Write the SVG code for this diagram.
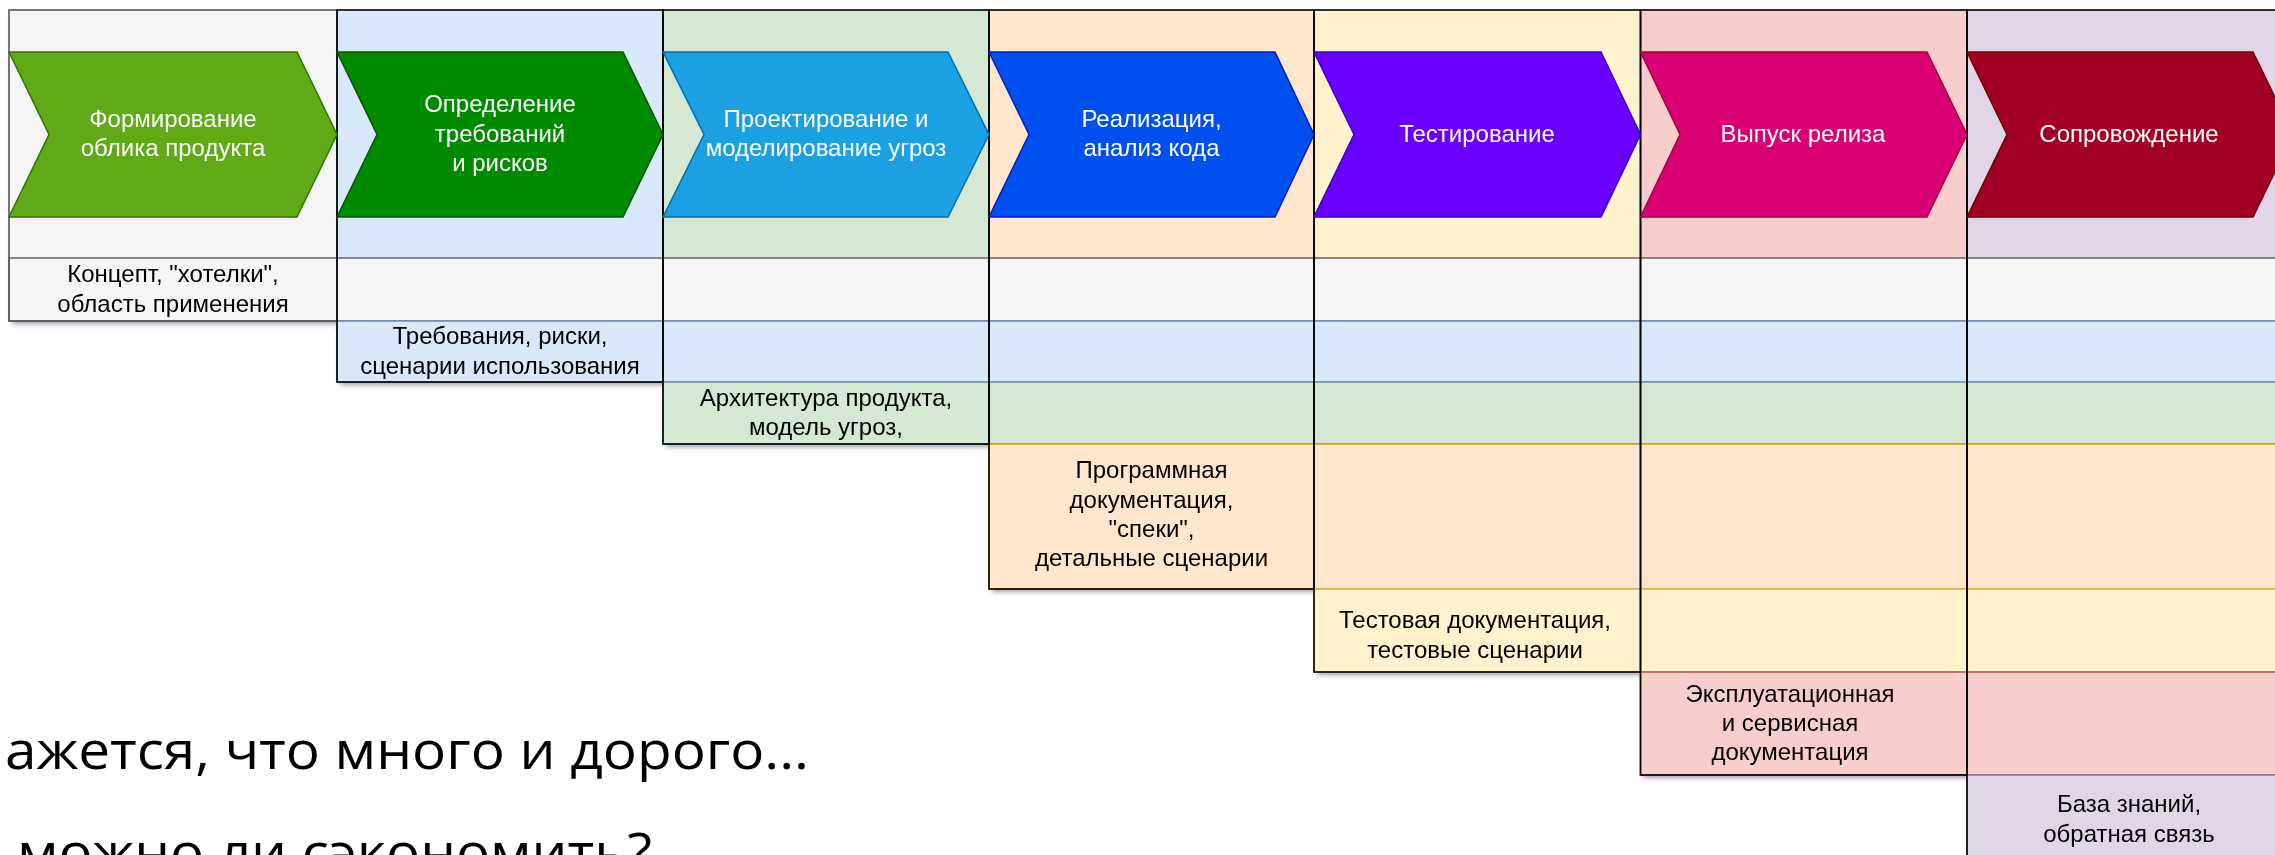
<svg xmlns="http://www.w3.org/2000/svg" width="2275" height="855" viewBox="0 0 2275 855">
<style>
.w{font-family:"Liberation Sans",Arial,sans-serif;font-size:24px;fill:#ffffff;text-anchor:middle}
.b{font-family:"Liberation Sans",Arial,sans-serif;font-size:24px;fill:#000000;text-anchor:middle}
.big{font-family:"Open Sans","Liberation Sans",sans-serif;font-weight:400;font-size:53px;fill:#000000}
.col{fill:none;stroke:#000000;stroke-width:1.6}
.shd{fill:#404060;opacity:.5}
.chev{stroke-width:1.5}
</style>
<defs>
<filter id="sh" x="-5%" y="-5%" width="110%" height="120%"><feGaussianBlur stdDeviation="2.5"/></filter>
</defs>
<rect width="2275" height="855" fill="#ffffff"/>
<g id="shadows" filter="url(#sh)">
<rect class="shd" x="12" y="14" width="328" height="310"/>
<rect class="shd" x="340" y="14" width="326" height="371"/>
<rect class="shd" x="666" y="14" width="326" height="433"/>
<rect class="shd" x="992" y="14" width="325" height="578"/>
<rect class="shd" x="1317" y="14" width="326" height="661"/>
<rect class="shd" x="1643" y="14" width="326" height="764"/>
</g>
<g id="headers">
<rect x="9" y="10" width="328" height="248" fill="#f5f5f5"/>
<rect x="337" y="10" width="326" height="248" fill="#dae8fc"/>
<rect x="663" y="10" width="326" height="248" fill="#d5e8d4"/>
<rect x="989" y="10" width="325" height="248" fill="#ffe6cc"/>
<rect x="1314" y="10" width="326.5" height="248" fill="#fff2cc"/>
<rect x="1640.5" y="10" width="326.5" height="248" fill="#f8cecc"/>
<rect x="1967" y="10" width="330" height="248" fill="#e1d5e7"/>
</g>
<g id="rows">
<rect id="row1" x="9" y="258" width="2300" height="63" fill="#f5f5f5" stroke="#666666" stroke-width="1.5"/>
<rect id="row2" x="337" y="321" width="2000" height="61" fill="#dae8fc" stroke="#6c8ebf" stroke-width="1.5"/>
<rect id="row3" x="663" y="382" width="1700" height="62" fill="#d5e8d4" stroke="#6c8ebf" stroke-width="1.5"/>
<rect id="row4" x="989" y="444" width="1400" height="145" fill="#ffe6cc" stroke="#d79b00" stroke-width="1.5"/>
<rect id="row5" x="1314" y="589" width="1000" height="83" fill="#fff2cc" stroke="#d6b656" stroke-width="1.5"/>
<rect id="row6" x="1640.5" y="672" width="700" height="103" fill="#f8cecc" stroke="#b85450" stroke-width="1.5"/>
<rect id="row7" x="1967" y="775" width="400" height="120" fill="#e1d5e7" stroke="#9673a6" stroke-width="1.5"/>
</g>
<g id="columns">
<rect x="9" y="10" width="328" height="311" class="col" style="stroke:#555555"/>
<rect x="337" y="10" width="326" height="372" class="col"/>
<rect x="663" y="10" width="326" height="434" class="col"/>
<rect x="989" y="10" width="325" height="579" class="col"/>
<rect x="1314" y="10" width="326.5" height="662" class="col"/>
<rect x="1640.5" y="10" width="326.5" height="765" class="col"/>
<rect x="1967" y="10" width="330" height="900" class="col"/>
</g>
<g id="connectors"></g>
<g id="stage1">
<polygon class="chev" points="9,52 297,52 337,134.5 297,217 9,217 49,134.5" fill="#60a917" stroke="#2d7600"/>
<text class="w" x="173" y="127">Формирование</text>
<text class="w" x="173" y="156">облика продукта</text>
</g>
<g id="stage2">
<polygon class="chev" points="337,52 623,52 663,134.5 623,217 337,217 377,134.5" fill="#008a00" stroke="#005700"/>
<text class="w" x="500" y="112">Определение</text>
<text class="w" x="500" y="141.5">требований</text>
<text class="w" x="500" y="171">и рисков</text>
</g>
<g id="stage3">
<polygon class="chev" points="663,52 948,52 989,134.5 948,217 663,217 704,134.5" fill="#1ba1e2" stroke="#006eaf"/>
<text class="w" x="826" y="127">Проектирование и</text>
<text class="w" x="826" y="156">моделирование угроз</text>
</g>
<g id="stage4">
<polygon class="chev" points="989,52 1275,52 1314,134.5 1275,217 989,217 1029,134.5" fill="#0050ef" stroke="#001dbc"/>
<text class="w" x="1151.5" y="127">Реализация,</text>
<text class="w" x="1151.5" y="156">анализ кода</text>
</g>
<g id="stage5">
<polygon class="chev" points="1314,52 1601,52 1640.5,134.5 1601,217 1314,217 1354,134.5" fill="#6a00ff" stroke="#3700cc"/>
<text class="w" x="1477" y="142">Тестирование</text>
</g>
<g id="stage6">
<polygon class="chev" points="1640.5,52 1927,52 1967,134.5 1927,217 1640.5,217 1680,134.5" fill="#d80073" stroke="#a50040"/>
<text class="w" x="1803" y="142">Выпуск релиза</text>
</g>
<g id="stage7">
<polygon class="chev" points="1967,52 2253,52 2293,134.5 2253,217 1967,217 2007,134.5" fill="#a20025" stroke="#6f0000"/>
<text class="w" x="2129" y="142">Сопровождение</text>
</g>
<g id="art1">
<text class="b" x="173" y="282">Концепт, "хотелки",</text>
<text class="b" x="173" y="311.5">область применения</text>
</g>
<g id="art2">
<text class="b" x="500" y="344">Требования, риски,</text>
<text class="b" x="500" y="373.5">сценарии использования</text>
</g>
<g id="art3">
<text class="b" x="826" y="406">Архитектура продукта,</text>
<text class="b" x="826" y="435">модель угроз,</text>
</g>
<g id="art4">
<text class="b" x="1151.5" y="478">Программная</text>
<text class="b" x="1151.5" y="507.5">документация,</text>
<text class="b" x="1151.5" y="537">"спеки",</text>
<text class="b" x="1151.5" y="566">детальные сценарии</text>
</g>
<g id="art5">
<text class="b" x="1475" y="628">Тестовая документация,</text>
<text class="b" x="1475" y="658">тестовые сценарии</text>
</g>
<g id="art6">
<text class="b" x="1790" y="702">Эксплуатационная</text>
<text class="b" x="1790" y="731">и сервисная</text>
<text class="b" x="1790" y="760">документация</text>
</g>
<g id="art7">
<text class="b" x="2129" y="812">База знаний,</text>
<text class="b" x="2129" y="841.5">обратная связь</text>
</g>
<g id="caption">
<text class="big" x="5" y="769" textLength="804" lengthAdjust="spacingAndGlyphs">ажется, что много и дорого...</text>
<text class="big" x="17" y="871" textLength="635" lengthAdjust="spacingAndGlyphs">можно ли сэкономить?</text>
</g>
</svg>
